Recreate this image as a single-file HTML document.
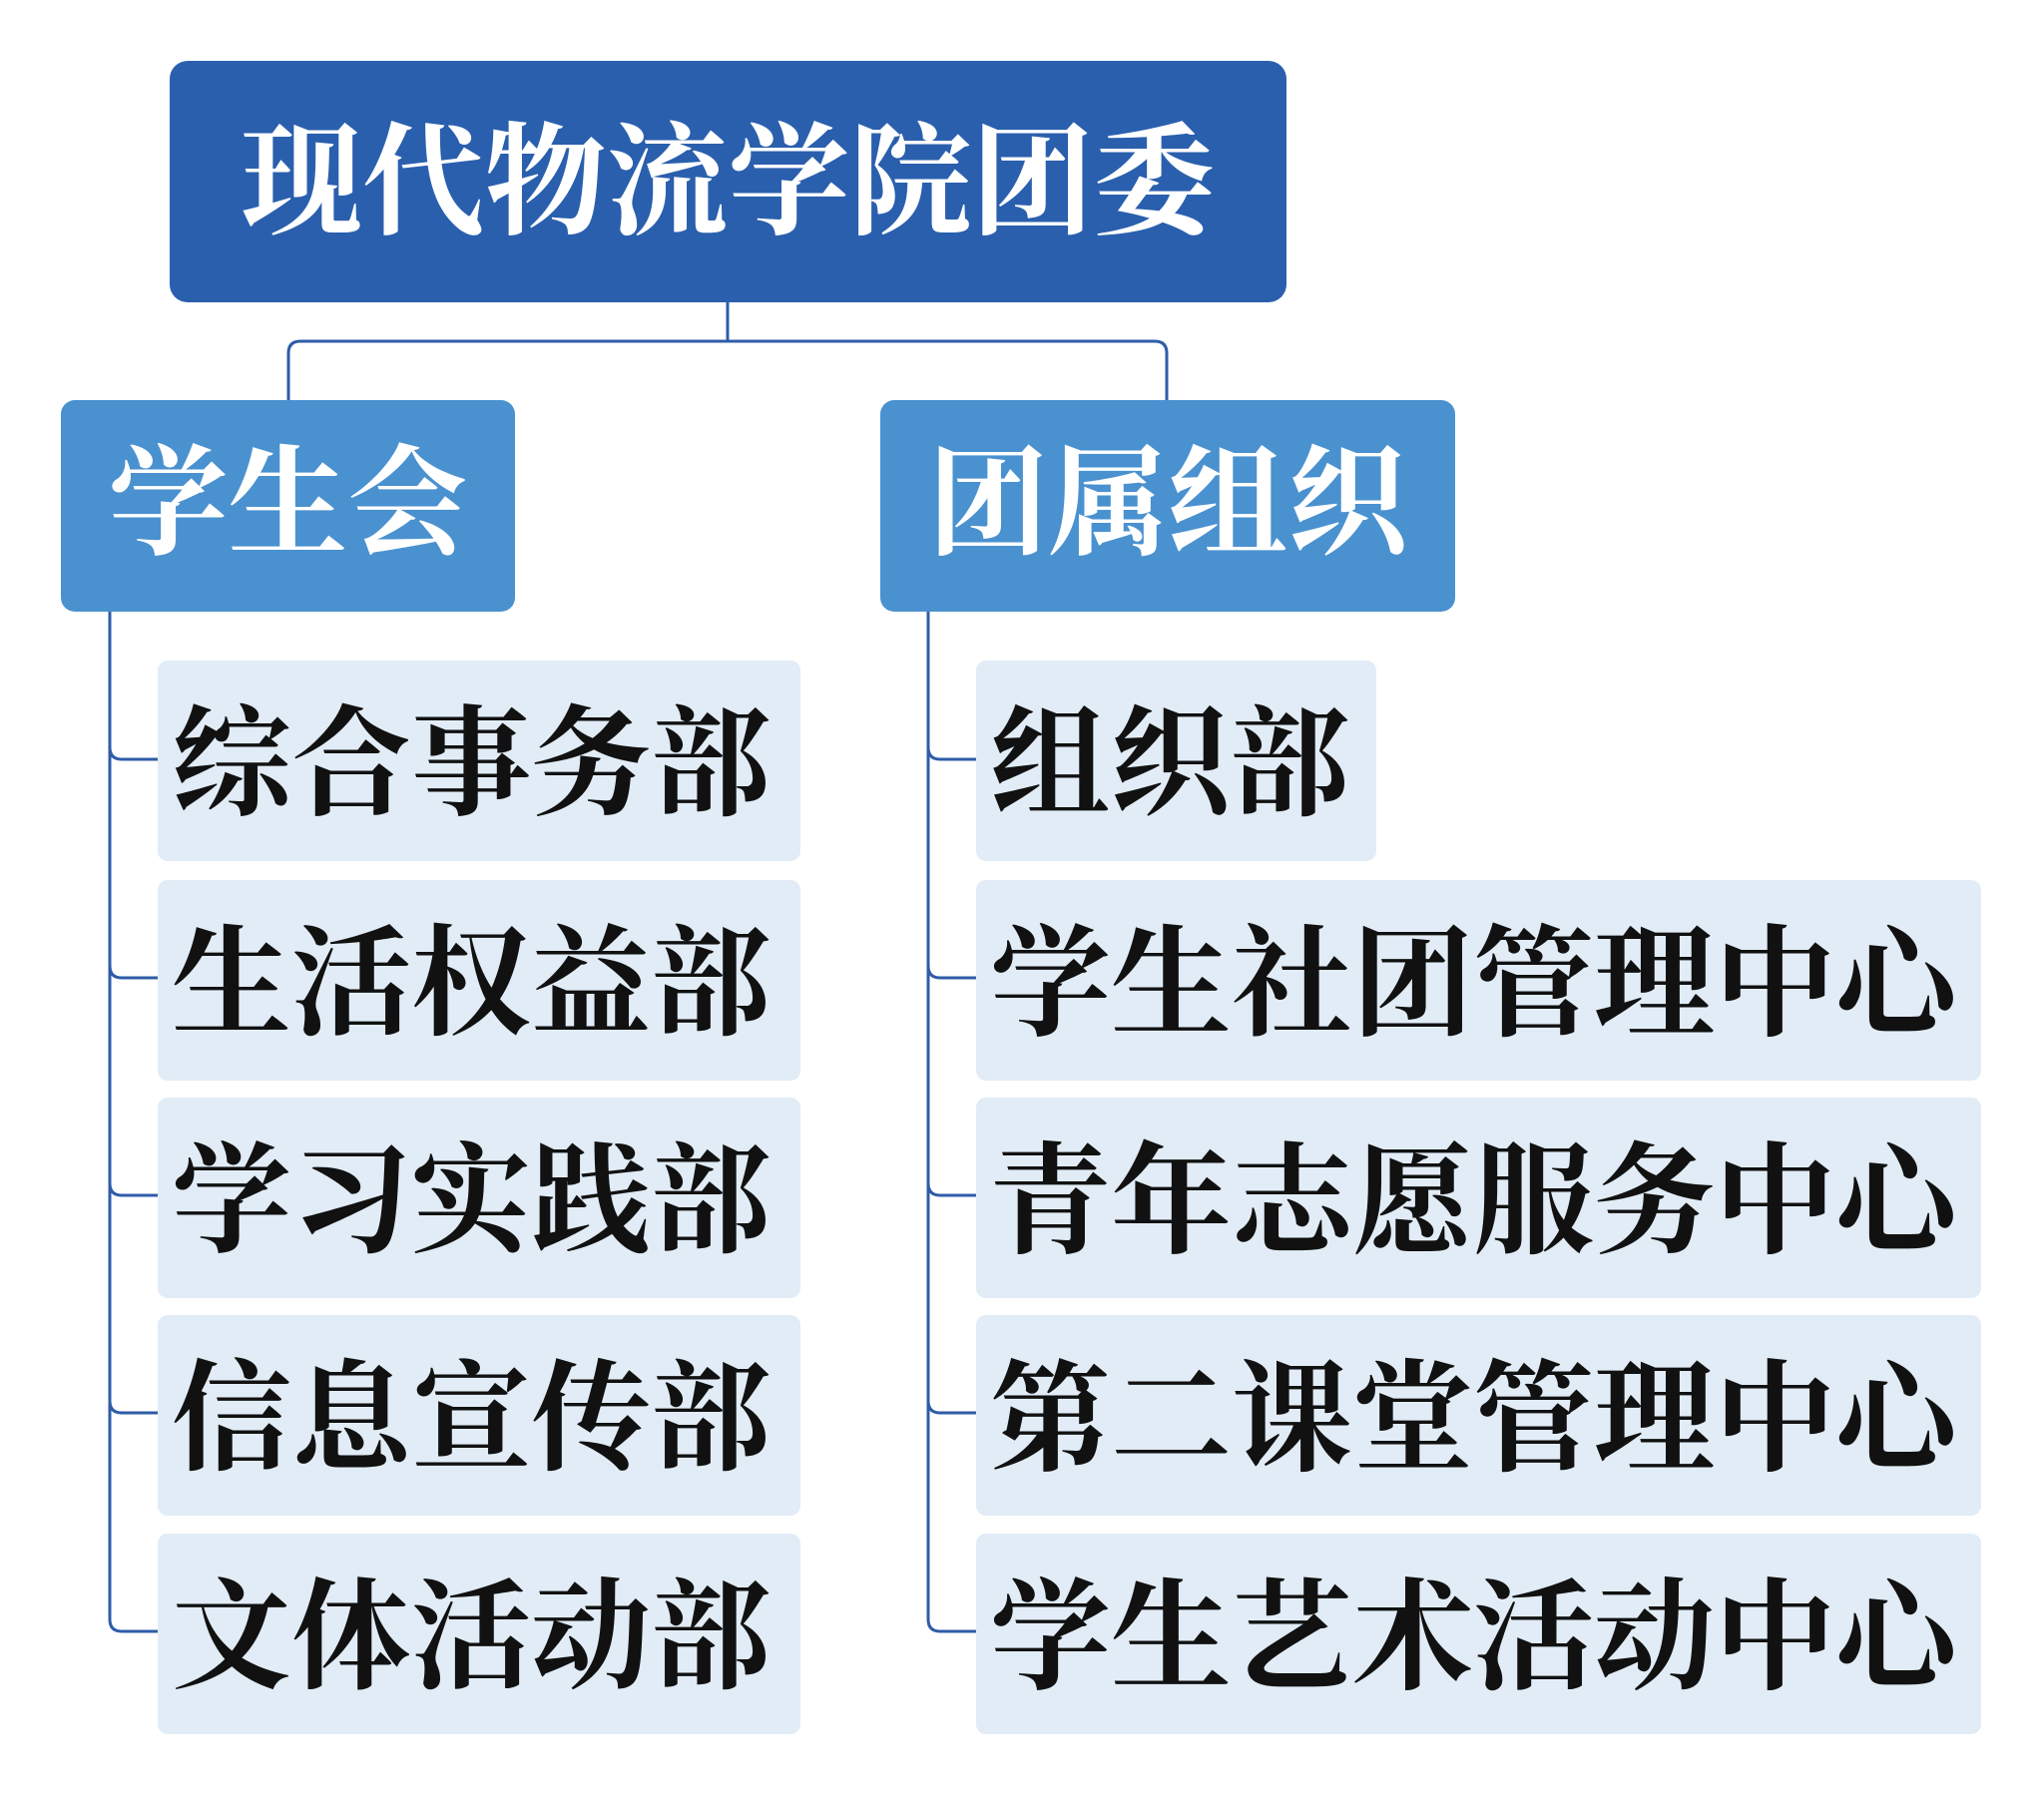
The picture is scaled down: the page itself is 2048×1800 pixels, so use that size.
<!DOCTYPE html><html><head><meta charset="utf-8"><style>
body{margin:0;width:2048px;height:1800px;background:#fff;position:relative;overflow:hidden;font-family:"Liberation Serif","Noto Serif CJK SC",serif;font-weight:700}
.b{position:absolute;display:flex;align-items:center;box-sizing:border-box;white-space:nowrap}
.top{left:170px;top:61px;width:1119px;height:242px;background:#2a5fae;border-radius:18px;color:#fff;font-size:122px;justify-content:center;padding-bottom:20px}
.mid{top:401px;height:212px;background:#4a91d0;border-radius:14px;color:#fff;font-size:120px;justify-content:center;padding-bottom:24px}
.lt{background:#e1ecf6;border-radius:10px;color:#111;font-size:120px;height:201px;padding-left:14px;padding-bottom:14px}
.r{font-size:121px}
</style></head><body>
<svg width="2048" height="1800" style="position:absolute;left:0;top:0">
<g fill="none" stroke="#2f5ca8" stroke-width="3">
<path d="M729 303V342"/>
<path d="M289 401V354Q289 342 301 342H1157Q1169 342 1169 354V401"/>
<path d="M110 613V1623Q110 1635 122 1635H158"/>
<path d="M110 749Q110 761 122 761H158M110 968Q110 980 122 980H158M110 1186Q110 1198 122 1198H158M110 1404Q110 1416 122 1416H158"/>
<path d="M930 613V1623Q930 1635 942 1635H978"/>
<path d="M930 749Q930 761 942 761H978M930 968Q930 980 942 980H978M930 1186Q930 1198 942 1198H978M930 1404Q930 1416 942 1416H978"/>
</g></svg>
<div class="b top">现代物流学院团委</div>
<div class="b mid" style="left:61px;width:455px">学生会</div>
<div class="b mid" style="left:882px;width:576px">团属组织</div>
<div class="b lt" style="left:158px;top:662px;width:644px">综合事务部</div>
<div class="b lt" style="left:158px;top:882px;width:644px">生活权益部</div>
<div class="b lt" style="left:158px;top:1100px;width:644px">学习实践部</div>
<div class="b lt" style="left:158px;top:1318px;width:644px">信息宣传部</div>
<div class="b lt" style="left:158px;top:1537px;width:644px">文体活动部</div>
<div class="b lt" style="left:978px;top:662px;width:401px">组织部</div>
<div class="b lt r" style="left:978px;top:882px;width:1007px">学生社团管理中心</div>
<div class="b lt r" style="left:978px;top:1100px;width:1007px">青年志愿服务中心</div>
<div class="b lt r" style="left:978px;top:1318px;width:1007px">第二课堂管理中心</div>
<div class="b lt r" style="left:978px;top:1537px;width:1007px">学生艺术活动中心</div>
</body></html>
